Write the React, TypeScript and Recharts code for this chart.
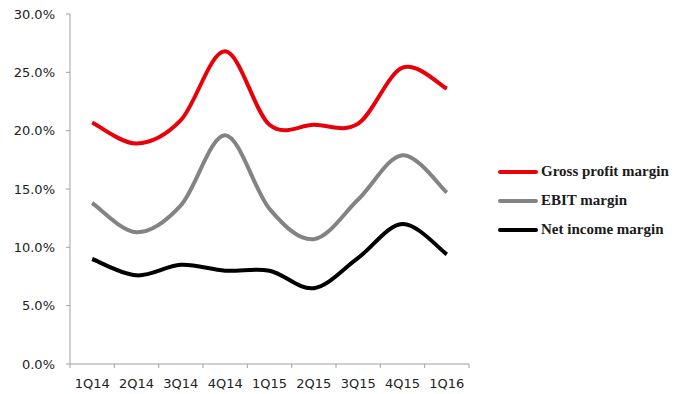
import { type JSX } from 'react'
import { LineChart, Line, XAxis, YAxis } from 'recharts'

const QUARTERS = ['1Q14', '2Q14', '3Q14', '4Q14', '1Q15', '2Q15', '3Q15', '4Q15', '1Q16']
const GROSS_MARGIN = [20.7, 18.9, 20.9, 26.8, 20.5, 20.5, 20.6, 25.4, 23.6]
const EBIT_MARGIN = [13.8, 11.3, 13.6, 19.6, 13.3, 10.7, 14.1, 17.9, 14.7]
const NET_MARGIN = [9.0, 7.6, 8.5, 8.0, 8.0, 6.5, 9.1, 12.0, 9.4]
const Y_TICKS = [0, 5, 10, 15, 20, 25, 30]

const SERIES = [
  { key: 'gross', name: 'Gross profit margin', color: '#e8000b' },
  { key: 'ebit', name: 'EBIT margin', color: '#838383' },
  { key: 'net', name: 'Net income margin', color: '#000000' },
]

const data = QUARTERS.map((q, i) => ({
  quarter: q,
  gross: GROSS_MARGIN[i],
  ebit: EBIT_MARGIN[i],
  net: NET_MARGIN[i],
}))

const W = 681
const H = 394
const MARGIN = { top: 14, right: 212, bottom: 0, left: 0 }
const Y_AXIS_W = 70
const PLOT_W = W - MARGIN.left - MARGIN.right - Y_AXIS_W
const HALF_BAND = PLOT_W / QUARTERS.length / 2
const TICK_SIZE = 4
const TICK_MARGIN = 11
const AXIS_COLOR = '#a0a0a0'
const TICK_FONT = { fontFamily: 'DejaVu Sans', fontSize: 13, fill: '#222222' }

// excel-style smoothed line: bezier with control points from neighbours (/6)
function excelSmooth(context: any) {
  let pts: number[][] = []
  return {
    areaStart() {},
    areaEnd() {},
    lineStart() {
      pts = []
    },
    point(x: number, y: number) {
      pts.push([+x, +y])
    },
    lineEnd() {
      if (!pts.length) return
      context.moveTo(pts[0][0], pts[0][1])
      for (let i = 0; i < pts.length - 1; i++) {
        const p0 = pts[i - 1] ?? pts[i]
        const p1 = pts[i]
        const p2 = pts[i + 1]
        const p3 = pts[i + 2] ?? p2
        context.bezierCurveTo(
          p1[0] + (p2[0] - p0[0]) / 6,
          p1[1] + (p2[1] - p0[1]) / 6,
          p2[0] - (p3[0] - p1[0]) / 6,
          p2[1] - (p3[1] - p1[1]) / 6,
          p2[0],
          p2[1],
        )
      }
    },
  }
}

const QuarterTick = (props: any): JSX.Element => {
  const { x, y, payload, index } = props
  const axisY = y - TICK_SIZE - TICK_MARGIN
  const last = index === QUARTERS.length - 1
  return (
    <g>
      <line x1={x - HALF_BAND} x2={x - HALF_BAND} y1={axisY} y2={axisY + TICK_SIZE} stroke={AXIS_COLOR} />
      {last && (
        <line x1={x + HALF_BAND} x2={x + HALF_BAND} y1={axisY} y2={axisY + TICK_SIZE} stroke={AXIS_COLOR} />
      )}
      <text x={x} y={y} dy="0.71em" textAnchor="middle" {...TICK_FONT}>
        {payload.value}
      </text>
    </g>
  )
}

const LegendBox = (): JSX.Element => (
  <div style={{ position: 'absolute', left: 498, top: 157 }}>
    {SERIES.map((s) => (
      <div key={s.key} style={{ display: 'flex', alignItems: 'center', height: 29 }}>
        <div style={{ width: 40, height: 4, background: s.color, borderRadius: 2, marginRight: 3 }} />
        <span
          style={{
            fontFamily: 'Liberation Serif',
            fontWeight: 'bold',
            fontSize: 15,
            color: '#1a1a1a',
            whiteSpace: 'nowrap',
          }}
        >
          {s.name}
        </span>
      </div>
    ))}
  </div>
)

export default function App(): JSX.Element {
  return (
    <div style={{ position: 'absolute', left: 0, top: 0, width: W, height: H, background: 'white' }}>
      <LineChart width={W} height={H} data={data} margin={MARGIN}>
        <XAxis
          dataKey="quarter"
          height={30}
          padding={{ left: HALF_BAND, right: HALF_BAND }}
          stroke={AXIS_COLOR}
          tickLine={false}
          tickSize={TICK_SIZE}
          tickMargin={TICK_MARGIN}
          tick={<QuarterTick />}
          interval={0}
        />
        <YAxis
          width={Y_AXIS_W}
          domain={[0, 30]}
          ticks={Y_TICKS}
          interval={0}
          stroke={AXIS_COLOR}
          tickSize={TICK_SIZE}
          tickMargin={11}
          tick={TICK_FONT}
          tickFormatter={(v: number) => `${v.toFixed(1)}%`}
        />
        {SERIES.map((s) => (
          <Line
            key={s.key}
            dataKey={s.key}
            name={s.name}
            type={excelSmooth as any}
            stroke={s.color}
            strokeWidth={4}
            dot={false}
            activeDot={false}
            isAnimationActive={false}
          />
        ))}
      </LineChart>
      <LegendBox />
    </div>
  )
}
